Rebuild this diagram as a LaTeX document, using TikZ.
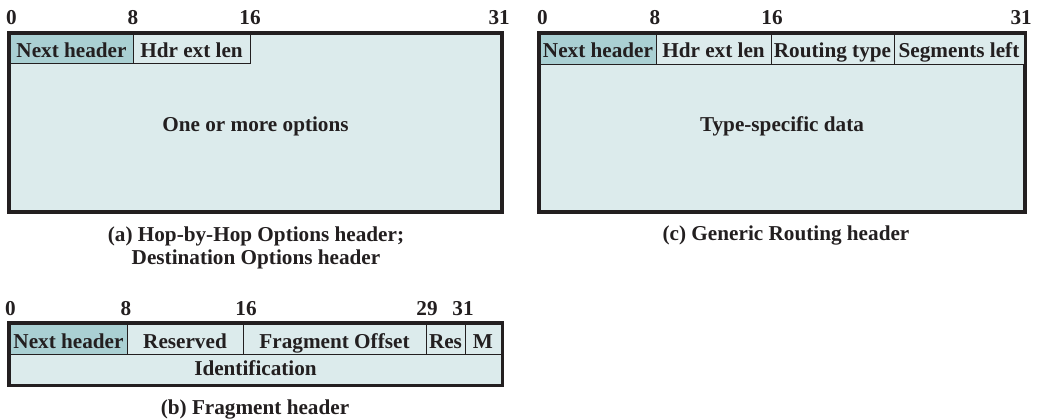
\documentclass[tikz,border=0pt]{standalone}
\usepackage{fontspec}
\setmainfont{Liberation Serif}
\definecolor{light}{RGB}{220,235,236}
\definecolor{dark}{RGB}{170,208,211}
\definecolor{ink}{RGB}{35,31,32}
\begin{document}
\begin{tikzpicture}[x=1pt,y=-1pt,
  every node/.style={font=\fontsize{21.2}{23}\selectfont\bfseries, text=ink},
  outer/.style={draw=ink, line width=2.8pt, fill=light, rectangle, inner sep=0pt},
  cell/.style={draw=ink, line width=0.9pt, fill=light, rectangle, inner sep=0pt, text height=22pt, text depth=4pt},
  nh/.style={cell, fill=dark},
  idcell/.style={cell, text height=18pt, text depth=6pt},
  bit/.style={anchor=base, inner sep=0pt},
  captext/.style={anchor=base, inner sep=0pt}]
\useasboundingbox (0,0) rectangle (1050,420);

% ---------- (a) ----------
\node[outer, minimum width=491pt, minimum height=177pt] (A) at (255.5,122.5) {};
\node[nh, minimum width=123pt, minimum height=29pt] (Anh) at (71.5,48.5) {Next header};
\node[cell, minimum width=117pt, minimum height=29pt] (Ahel) at (191.5,48.5) {Hdr ext len};
\node[anchor=base, inner sep=0pt] (Aopt) at (255.5,131) {One or more options};
\draw[draw=ink, line width=2.8pt] (A.north west) rectangle (A.south east);
\node[bit, anchor=base west] (A0) at (6,25) {0};
\node[bit] (A8) at (133,25) {8};
\node[bit] (A16) at (250,25) {16};
\node[bit, anchor=base east] (A31) at (510,25) {31};
\node[captext] (Acap1) at (256,241) {(a) Hop-by-Hop Options header;};
\node[captext] (Acap2) at (256,264) {Destination Options header};

% ---------- (c) ----------
\node[outer, minimum width=484pt, minimum height=177pt] (C) at (782,122.5) {};
\node[nh, minimum width=116pt, minimum height=30pt] (Cnh) at (598,49) {Next header};
\node[cell, minimum width=115pt, minimum height=30pt] (Chel) at (713.5,49) {Hdr ext len};
\node[cell, minimum width=123pt, minimum height=30pt] (Crt) at (832.5,49) {Routing type};
\node[cell, minimum width=130pt, minimum height=30pt] (Csl) at (959,49) {Segments left};
\node[anchor=base, inner sep=0pt] (Cdata) at (782,131) {Type-specific data};
\draw[draw=ink, line width=2.8pt] (C.north west) rectangle (C.south east);
\node[bit, anchor=base west] (C0) at (537,25) {0};
\node[bit] (C8) at (655,25) {8};
\node[bit] (C16) at (772,25) {16};
\node[bit, anchor=base east] (C31) at (1032,25) {31};
\node[captext] (Ccap) at (786,240) {(c) Generic Routing header};

% ---------- (b) ----------
\node[outer, minimum width=491pt, minimum height=60pt] (B) at (255.5,354) {};
\node[nh, minimum width=117pt, minimum height=30pt] (Bnh) at (68.5,339) {Next header};
\node[cell, minimum width=116pt, minimum height=30pt] (Bres) at (185,339) {Reserved};
\node[cell, minimum width=183pt, minimum height=30pt] (Bfo) at (334.5,339) {Fragment Offset};
\node[cell, minimum width=39pt, minimum height=30pt] (Bres2) at (445.5,339) {Res};
\node[cell, minimum width=36pt, minimum height=30pt] (Bm) at (483,339) {M};
\node[idcell, minimum width=491pt, minimum height=30pt] (Bid) at (255.5,369) {Identification};
\draw[draw=ink, line width=2.8pt] (B.north west) rectangle (B.south east);
\node[bit, anchor=base west] (B0) at (5,315) {0};
\node[bit] (B8) at (126,315) {8};
\node[bit] (B16) at (246,315) {16};
\node[bit] (B29) at (427,315) {29};
\node[bit] (B31) at (463,315) {31};
\node[captext] (Bcap) at (255,414) {(b) Fragment header};
\end{tikzpicture}
\end{document}
